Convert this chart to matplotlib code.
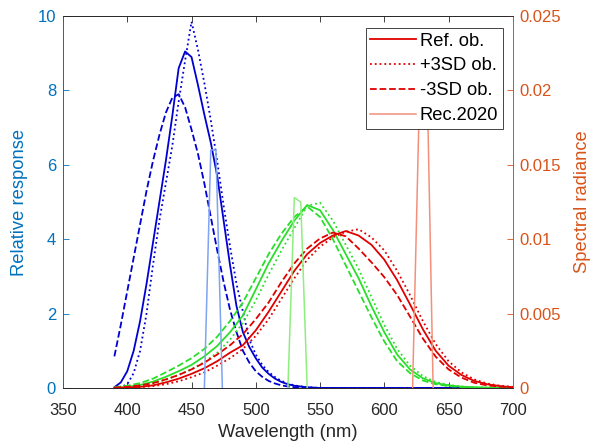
import matplotlib
matplotlib.use('Agg')
from matplotlib import pyplot as plt

plt.rcParams['font.family'] = ['Liberation Sans', 'DejaVu Sans']

# blue curves, 5 nm steps (plus a zero tail to 700)
wl_blue = [390, 395, 400, 405, 410, 415, 420, 425, 430, 435, 440, 445, 450,
           455, 460, 465, 470, 475, 480, 485, 490, 495, 500, 505, 510, 515,
           520, 525, 530, 535, 540, 545, 550, 700]
blue_ref = [0.02, 0.15, 0.45, 1.0, 1.8, 2.8, 3.9, 5.0, 6.1, 7.3, 8.6, 9.05, 8.9,
            8.15, 7.35, 6.6, 5.7, 4.5, 3.3, 2.2, 1.5, 1.1, 0.8, 0.55, 0.38, 0.25,
            0.16, 0.1, 0.06, 0.04, 0.02, 0.01, 0.0, 0.0]
blue_plus = [0.0, 0.02, 0.1, 0.4, 1.0, 2.0, 3.3, 4.5, 5.5, 6.5, 7.7, 8.8, 9.85,
             9.1, 8.2, 7.2, 6.1, 4.9, 3.8, 2.8, 2.05, 1.3, 0.9, 0.62, 0.43, 0.29,
             0.19, 0.12, 0.07, 0.04, 0.02, 0.01, 0.0, 0.0]
blue_minus = [0.85, 1.7, 2.6, 3.5, 4.4, 5.3, 6.1, 6.8, 7.4, 7.8, 7.9, 7.55, 6.95,
              6.3, 5.5, 4.6, 3.7, 2.85, 2.1, 1.5, 1.0, 0.68, 0.45, 0.3, 0.19, 0.12,
              0.07, 0.04, 0.02, 0.01, 0.0, 0.0, 0.0, 0.0]

# green and red curves, 10 nm steps
wl = [390, 400, 410, 420, 430, 440, 450, 460, 470, 480, 490, 500, 510, 520,
      530, 540, 550, 560, 570, 580, 590, 600, 610, 620, 630, 640, 650, 660,
      670, 680, 690, 700]
green_ref = [0.0, 0.03, 0.08, 0.17, 0.3, 0.45, 0.62, 0.85, 1.13, 1.5, 1.95, 2.65,
             3.35, 3.95, 4.5, 4.92, 4.78, 4.25, 3.6, 2.95, 2.2, 1.5, 0.9, 0.5,
             0.26, 0.13, 0.07, 0.035, 0.017, 0.008, 0.004, 0.002]
green_plus = [0.0, 0.02, 0.05, 0.12, 0.22, 0.35, 0.5, 0.7, 0.95, 1.3, 1.75, 2.35,
              3.05, 3.7, 4.3, 4.9, 4.98, 4.5, 3.85, 3.2, 2.45, 1.7, 1.05, 0.6,
              0.32, 0.16, 0.08, 0.04, 0.02, 0.01, 0.005, 0.002]
green_minus = [0.02, 0.06, 0.13, 0.25, 0.42, 0.6, 0.8, 1.05, 1.38, 1.8, 2.3, 2.95,
               3.6, 4.15, 4.6, 4.88, 4.6, 4.0, 3.3, 2.6, 1.9, 1.25, 0.72, 0.4,
               0.2, 0.1, 0.05, 0.025, 0.012, 0.006, 0.003, 0.001]
red_ref = [0.0, 0.01, 0.03, 0.07, 0.15, 0.25, 0.38, 0.53, 0.72, 0.95, 1.15, 1.55,
           2.05, 2.6, 3.15, 3.6, 3.9, 4.1, 4.22, 4.1, 3.85, 3.45, 2.9, 2.25,
           1.58, 1.0, 0.6, 0.35, 0.19, 0.1, 0.05, 0.02]
red_plus = [0.0, 0.005, 0.02, 0.05, 0.1, 0.18, 0.29, 0.42, 0.6, 0.8, 1.05, 1.4,
            1.85, 2.4, 2.95, 3.45, 3.8, 4.05, 4.2, 4.27, 4.05, 3.7, 3.15, 2.5,
            1.8, 1.18, 0.72, 0.42, 0.23, 0.12, 0.06, 0.03]
red_minus = [0.01, 0.03, 0.07, 0.13, 0.23, 0.35, 0.5, 0.68, 0.9, 1.15, 1.45, 1.85,
             2.3, 2.85, 3.35, 3.75, 4.02, 4.18, 4.08, 3.75, 3.38, 2.98, 2.5, 1.92,
             1.33, 0.84, 0.5, 0.28, 0.14, 0.07, 0.035, 0.015]

# Rec.2020 primaries (spectral radiance, right axis)
rec_blue_wl = [460, 465, 469, 474]
rec_blue = [0.0, 0.016, 0.016, 0.0]
rec_green_wl = [525, 530, 535, 540]
rec_green = [0.0, 0.0128, 0.0125, 0.0]
rec_red_wl = [622, 628, 633, 638]
rec_red = [0.0, 0.022, 0.022, 0.0]

ml_blue = (0.0, 0.447, 0.741)
ml_orange = (0.85, 0.325, 0.098)
dark = (0.15, 0.15, 0.15)
c_b = '#0000d0'
c_g = '#2ade2a'
c_r = '#e00000'

fig = plt.figure(figsize=(5.97, 4.48), dpi=100)
ax = fig.add_axes([0.1055, 0.134, 0.7535, 0.830])
ax2 = ax.twinx()

lw = 1.3
ax.plot(wl_blue, blue_ref, '-', color=c_b, lw=lw)
ax.plot(wl_blue, blue_plus, ':', color=c_b, lw=lw)
ax.plot(wl_blue, blue_minus, '--', color=c_b, lw=lw)
ax.plot(wl, green_ref, '-', color=c_g, lw=lw)
ax.plot(wl, green_plus, ':', color=c_g, lw=lw)
ax.plot(wl, green_minus, '--', color=c_g, lw=lw)
h1, = ax.plot(wl, red_ref, '-', color=c_r, lw=lw)
h2, = ax.plot(wl, red_plus, ':', color=c_r, lw=lw)
h3, = ax.plot(wl, red_minus, '--', color=c_r, lw=lw)

ax2.plot(rec_blue_wl, rec_blue, '-', color='#7fa4f0', lw=1.1)
ax2.plot(rec_green_wl, rec_green, '-', color='#90ee80', lw=1.1)
h4, = ax2.plot(rec_red_wl, rec_red, '-', color='#f4907a', lw=1.1)

ax.set_xlim(350, 700)
ax.set_ylim(0, 10)
ax2.set_ylim(0, 0.025)
ax.set_xticks([350, 400, 450, 500, 550, 600, 650, 700])
ax.set_yticks([0, 2, 4, 6, 8, 10])
ax2.set_yticks([0, 0.005, 0.01, 0.015, 0.02, 0.025])
ax2.set_yticklabels(['0', '0.005', '0.01', '0.015', '0.02', '0.025'])

ax.tick_params(axis='x', direction='in', length=4, top=True, labelsize=12,
               colors=dark, width=0.6, pad=11)
ax.tick_params(axis='y', direction='in', length=4, labelsize=12,
               colors=ml_blue, width=0.6, pad=5)
ax2.tick_params(axis='y', direction='in', length=4, labelsize=12,
                colors=ml_orange, width=0.6, pad=5)

for a in (ax, ax2):
    a.spines['top'].set_color(dark)
    a.spines['bottom'].set_color(dark)
    a.spines['left'].set_color(ml_blue)
    a.spines['right'].set_color(ml_orange)
    for s in a.spines.values():
        s.set_linewidth(0.6)

ax.set_xlabel('Wavelength (nm)', fontsize=13.2, color=dark, labelpad=4)
ax.set_ylabel('Relative response', fontsize=13.2, color=ml_blue, labelpad=7)
ax2.set_ylabel('Spectral radiance', fontsize=13.2, color=ml_orange, labelpad=9)

leg = ax2.legend([h1, h2, h3, h4], ['Ref. ob.', '+3SD ob.', '-3SD ob.', 'Rec.2020'],
                 loc='upper right', bbox_to_anchor=(0.978, 0.968), borderaxespad=0,
                 fontsize=13.2, fancybox=False, framealpha=1, edgecolor=dark,
                 handlelength=2.5, handletextpad=0.2, labelspacing=0.43,
                 borderpad=0.25)
leg.get_frame().set_linewidth(0.6)

plt.savefig('out.png', dpi=100)
